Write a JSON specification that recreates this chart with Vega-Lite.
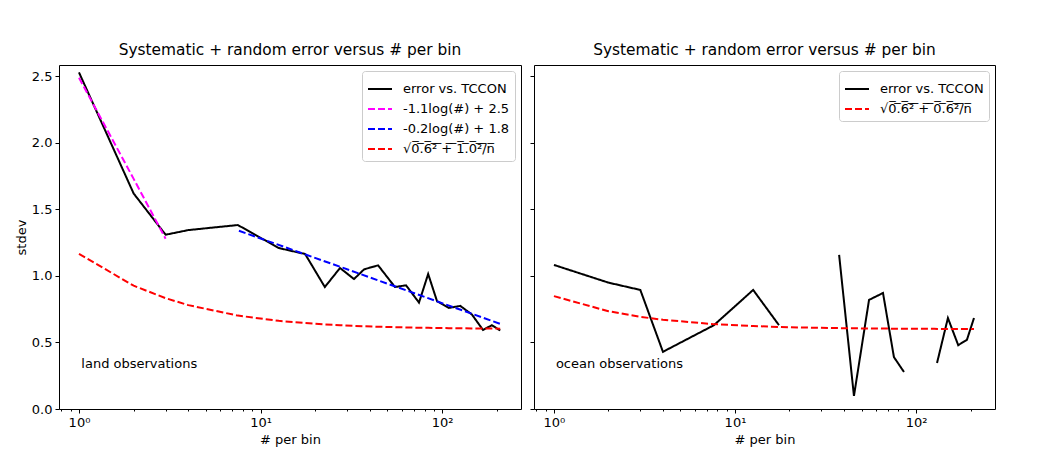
{
  "$schema": "https://vega.github.io/schema/vega-lite/v6.json",
  "background": "white",
  "padding": {"left": 14, "top": 42, "right": 0, "bottom": 0},
  "config": {
    "font": "DejaVu Sans",
    "view": {"stroke": "black", "strokeWidth": 1},
    "axis": {"grid": false, "domain": false, "tickColor": "black", "labelColor": "black", "titleColor": "black", "labelFontSize": 13, "titleFontSize": 13, "titleFontWeight": "normal", "tickSize": 4, "labelPadding": 3},
    "title": {"fontSize": 15.4, "fontWeight": "normal", "color": "black", "offset": 7},
    "legend": {"orient": "top-right", "offset": 6, "strokeColor": "#cccccc", "fillColor": "white", "padding": 5, "cornerRadius": 3, "symbolType": "stroke", "symbolSize": 576, "symbolStrokeWidth": 2, "labelFontSize": 13, "labelColor": "black", "rowPadding": -5, "labelOffset": 10, "labelLimit": 300}
  },
  "spacing": 7,
  "resolve": {"scale": {"color": "independent", "strokeDash": "independent", "x": "independent", "y": "independent"}},
  "hconcat": [
    {
      "width": 462,
      "height": 344,
      "title": "Systematic + random error versus # per bin",
      "data": {"values": [
        {"x": 1, "y": 2.53, "series": "error vs. TCCON", "seg": "a"},
        {"x": 2, "y": 1.62, "series": "error vs. TCCON", "seg": "a"},
        {"x": 3, "y": 1.31, "series": "error vs. TCCON", "seg": "a"},
        {"x": 4, "y": 1.345, "series": "error vs. TCCON", "seg": "a"},
        {"x": 7.5, "y": 1.383, "series": "error vs. TCCON", "seg": "a"},
        {"x": 12.6, "y": 1.21, "series": "error vs. TCCON", "seg": "a"},
        {"x": 17.6, "y": 1.165, "series": "error vs. TCCON", "seg": "a"},
        {"x": 22.6, "y": 0.917, "series": "error vs. TCCON", "seg": "a"},
        {"x": 27.4, "y": 1.06, "series": "error vs. TCCON", "seg": "a"},
        {"x": 32.7, "y": 0.977, "series": "error vs. TCCON", "seg": "a"},
        {"x": 37.2, "y": 1.05, "series": "error vs. TCCON", "seg": "a"},
        {"x": 44.4, "y": 1.08, "series": "error vs. TCCON", "seg": "a"},
        {"x": 55, "y": 0.917, "series": "error vs. TCCON", "seg": "a"},
        {"x": 63.3, "y": 0.93, "series": "error vs. TCCON", "seg": "a"},
        {"x": 74.6, "y": 0.8, "series": "error vs. TCCON", "seg": "a"},
        {"x": 83.8, "y": 1.015, "series": "error vs. TCCON", "seg": "a"},
        {"x": 93.8, "y": 0.81, "series": "error vs. TCCON", "seg": "a"},
        {"x": 109, "y": 0.76, "series": "error vs. TCCON", "seg": "a"},
        {"x": 126, "y": 0.775, "series": "error vs. TCCON", "seg": "a"},
        {"x": 146, "y": 0.71, "series": "error vs. TCCON", "seg": "a"},
        {"x": 168, "y": 0.594, "series": "error vs. TCCON", "seg": "a"},
        {"x": 188, "y": 0.63, "series": "error vs. TCCON", "seg": "a"},
        {"x": 209, "y": 0.59, "series": "error vs. TCCON", "seg": "a"},
        {"x": 1, "y": 2.49, "series": "-1.1log(#) + 2.5", "seg": "m"},
        {"x": 2, "y": 1.73, "series": "-1.1log(#) + 2.5", "seg": "m"},
        {"x": 3, "y": 1.28, "series": "-1.1log(#) + 2.5", "seg": "m"},
        {"x": 7.6, "y": 1.34, "series": "-0.2log(#) + 1.8", "seg": "b"},
        {"x": 209, "y": 0.64, "series": "-0.2log(#) + 1.8", "seg": "b"},
        {"x": 1, "y": 1.166, "series": "√0̅.̅6̅²̅ ̅+̅ ̅1̅.̅0̅²̅/̅n̅", "seg": "r"},
        {"x": 2, "y": 0.927, "series": "√0̅.̅6̅²̅ ̅+̅ ̅1̅.̅0̅²̅/̅n̅", "seg": "r"},
        {"x": 3, "y": 0.833, "series": "√0̅.̅6̅²̅ ̅+̅ ̅1̅.̅0̅²̅/̅n̅", "seg": "r"},
        {"x": 4, "y": 0.781, "series": "√0̅.̅6̅²̅ ̅+̅ ̅1̅.̅0̅²̅/̅n̅", "seg": "r"},
        {"x": 7.5, "y": 0.702, "series": "√0̅.̅6̅²̅ ̅+̅ ̅1̅.̅0̅²̅/̅n̅", "seg": "r"},
        {"x": 12.6, "y": 0.663, "series": "√0̅.̅6̅²̅ ̅+̅ ̅1̅.̅0̅²̅/̅n̅", "seg": "r"},
        {"x": 17.6, "y": 0.646, "series": "√0̅.̅6̅²̅ ̅+̅ ̅1̅.̅0̅²̅/̅n̅", "seg": "r"},
        {"x": 22.6, "y": 0.636, "series": "√0̅.̅6̅²̅ ̅+̅ ̅1̅.̅0̅²̅/̅n̅", "seg": "r"},
        {"x": 27.4, "y": 0.63, "series": "√0̅.̅6̅²̅ ̅+̅ ̅1̅.̅0̅²̅/̅n̅", "seg": "r"},
        {"x": 32.7, "y": 0.625, "series": "√0̅.̅6̅²̅ ̅+̅ ̅1̅.̅0̅²̅/̅n̅", "seg": "r"},
        {"x": 37.2, "y": 0.622, "series": "√0̅.̅6̅²̅ ̅+̅ ̅1̅.̅0̅²̅/̅n̅", "seg": "r"},
        {"x": 44.4, "y": 0.6185, "series": "√0̅.̅6̅²̅ ̅+̅ ̅1̅.̅0̅²̅/̅n̅", "seg": "r"},
        {"x": 55, "y": 0.615, "series": "√0̅.̅6̅²̅ ̅+̅ ̅1̅.̅0̅²̅/̅n̅", "seg": "r"},
        {"x": 63.3, "y": 0.613, "series": "√0̅.̅6̅²̅ ̅+̅ ̅1̅.̅0̅²̅/̅n̅", "seg": "r"},
        {"x": 74.6, "y": 0.611, "series": "√0̅.̅6̅²̅ ̅+̅ ̅1̅.̅0̅²̅/̅n̅", "seg": "r"},
        {"x": 83.8, "y": 0.61, "series": "√0̅.̅6̅²̅ ̅+̅ ̅1̅.̅0̅²̅/̅n̅", "seg": "r"},
        {"x": 93.8, "y": 0.609, "series": "√0̅.̅6̅²̅ ̅+̅ ̅1̅.̅0̅²̅/̅n̅", "seg": "r"},
        {"x": 109, "y": 0.6076, "series": "√0̅.̅6̅²̅ ̅+̅ ̅1̅.̅0̅²̅/̅n̅", "seg": "r"},
        {"x": 126, "y": 0.6066, "series": "√0̅.̅6̅²̅ ̅+̅ ̅1̅.̅0̅²̅/̅n̅", "seg": "r"},
        {"x": 146, "y": 0.6057, "series": "√0̅.̅6̅²̅ ̅+̅ ̅1̅.̅0̅²̅/̅n̅", "seg": "r"},
        {"x": 168, "y": 0.6049, "series": "√0̅.̅6̅²̅ ̅+̅ ̅1̅.̅0̅²̅/̅n̅", "seg": "r"},
        {"x": 188, "y": 0.6044, "series": "√0̅.̅6̅²̅ ̅+̅ ̅1̅.̅0̅²̅/̅n̅", "seg": "r"},
        {"x": 209, "y": 0.604, "series": "√0̅.̅6̅²̅ ̅+̅ ̅1̅.̅0̅²̅/̅n̅", "seg": "r"}
      ]},
      "layer": [
        {
          "mark": {"type": "line", "strokeWidth": 2},
          "encoding": {
            "x": {"field": "x", "type": "quantitative", "scale": {"type": "log", "domain": [0.776, 272], "nice": false},
              "axis": {"title": "# per bin", "values": [0.8, 0.9, 1, 2, 3, 4, 5, 6, 7, 8, 9, 10, 20, 30, 40, 50, 60, 70, 80, 90, 100, 200],
                "labelExpr": "datum.value == 1 ? '10⁰' : datum.value == 10 ? '10¹' : datum.value == 100 ? '10²' : ''",
                "tickSize": {"condition": {"test": "datum.value == 1 || datum.value == 10 || datum.value == 100", "value": 4}, "value": 2},
                "titlePadding": 4}},
            "y": {"field": "y", "type": "quantitative", "scale": {"domain": [0, 2.586], "nice": false},
              "axis": {"title": "stdev", "values": [0, 0.5, 1, 1.5, 2, 2.5], "format": ".1f", "titlePadding": 3}},
            "color": {"field": "series", "type": "nominal",
              "scale": {"domain": ["error vs. TCCON", "-1.1log(#) + 2.5", "-0.2log(#) + 1.8", "√0̅.̅6̅²̅ ̅+̅ ̅1̅.̅0̅²̅/̅n̅"], "range": ["black", "#ff00ff", "#0000ff", "#ff0000"]},
              "legend": {"title": null}},
            "strokeDash": {"field": "series", "type": "nominal",
              "scale": {"domain": ["error vs. TCCON", "-1.1log(#) + 2.5", "-0.2log(#) + 1.8", "√0̅.̅6̅²̅ ̅+̅ ̅1̅.̅0̅²̅/̅n̅"], "range": [[1, 0], [7, 3], [7, 3], [7, 3]]},
              "legend": {"title": null}},
            "detail": {"field": "seg"}
          }
        },
        {
          "data": {"values": [{"x": 1.03, "y": 0.34, "label": "land observations"}]},
          "mark": {"type": "text", "align": "left", "baseline": "middle", "fontSize": 13, "color": "black"},
          "encoding": {
            "x": {"field": "x", "type": "quantitative"},
            "y": {"field": "y", "type": "quantitative"},
            "text": {"field": "label"}
          }
        }
      ]
    },
    {
      "width": 461,
      "height": 344,
      "title": "Systematic + random error versus # per bin",
      "data": {"values": [
        {"x": 1, "y": 1.083, "series": "error vs. TCCON", "seg": "a"},
        {"x": 2, "y": 0.95, "series": "error vs. TCCON", "seg": "a"},
        {"x": 3, "y": 0.895, "series": "error vs. TCCON", "seg": "a"},
        {"x": 4, "y": 0.43, "series": "error vs. TCCON", "seg": "a"},
        {"x": 7.65, "y": 0.63, "series": "error vs. TCCON", "seg": "a"},
        {"x": 12.6, "y": 0.895, "series": "error vs. TCCON", "seg": "a"},
        {"x": 17.5, "y": 0.63, "series": "error vs. TCCON", "seg": "a"},
        {"x": 37.6, "y": 1.158, "series": "error vs. TCCON", "seg": "b"},
        {"x": 45.4, "y": 0.098, "series": "error vs. TCCON", "seg": "b"},
        {"x": 55, "y": 0.82, "series": "error vs. TCCON", "seg": "b"},
        {"x": 65.7, "y": 0.872, "series": "error vs. TCCON", "seg": "b"},
        {"x": 75.5, "y": 0.39, "series": "error vs. TCCON", "seg": "b"},
        {"x": 85.8, "y": 0.278, "series": "error vs. TCCON", "seg": "b"},
        {"x": 130.6, "y": 0.346, "series": "error vs. TCCON", "seg": "c"},
        {"x": 150, "y": 0.684, "series": "error vs. TCCON", "seg": "c"},
        {"x": 171, "y": 0.48, "series": "error vs. TCCON", "seg": "c"},
        {"x": 191, "y": 0.52, "series": "error vs. TCCON", "seg": "c"},
        {"x": 209, "y": 0.684, "series": "error vs. TCCON", "seg": "c"},
        {"x": 1, "y": 0.8485, "series": "√0̅.̅6̅²̅ ̅+̅ ̅0̅.̅6̅²̅/̅n̅", "seg": "r"},
        {"x": 2, "y": 0.7348, "series": "√0̅.̅6̅²̅ ̅+̅ ̅0̅.̅6̅²̅/̅n̅", "seg": "r"},
        {"x": 3, "y": 0.6928, "series": "√0̅.̅6̅²̅ ̅+̅ ̅0̅.̅6̅²̅/̅n̅", "seg": "r"},
        {"x": 4, "y": 0.6708, "series": "√0̅.̅6̅²̅ ̅+̅ ̅0̅.̅6̅²̅/̅n̅", "seg": "r"},
        {"x": 7.5, "y": 0.6387, "series": "√0̅.̅6̅²̅ ̅+̅ ̅0̅.̅6̅²̅/̅n̅", "seg": "r"},
        {"x": 12.6, "y": 0.6234, "series": "√0̅.̅6̅²̅ ̅+̅ ̅0̅.̅6̅²̅/̅n̅", "seg": "r"},
        {"x": 17.6, "y": 0.6168, "series": "√0̅.̅6̅²̅ ̅+̅ ̅0̅.̅6̅²̅/̅n̅", "seg": "r"},
        {"x": 22.6, "y": 0.6131, "series": "√0̅.̅6̅²̅ ̅+̅ ̅0̅.̅6̅²̅/̅n̅", "seg": "r"},
        {"x": 27.4, "y": 0.6109, "series": "√0̅.̅6̅²̅ ̅+̅ ̅0̅.̅6̅²̅/̅n̅", "seg": "r"},
        {"x": 32.7, "y": 0.6091, "series": "√0̅.̅6̅²̅ ̅+̅ ̅0̅.̅6̅²̅/̅n̅", "seg": "r"},
        {"x": 37.2, "y": 0.608, "series": "√0̅.̅6̅²̅ ̅+̅ ̅0̅.̅6̅²̅/̅n̅", "seg": "r"},
        {"x": 44.4, "y": 0.6067, "series": "√0̅.̅6̅²̅ ̅+̅ ̅0̅.̅6̅²̅/̅n̅", "seg": "r"},
        {"x": 55, "y": 0.6054, "series": "√0̅.̅6̅²̅ ̅+̅ ̅0̅.̅6̅²̅/̅n̅", "seg": "r"},
        {"x": 63.3, "y": 0.6047, "series": "√0̅.̅6̅²̅ ̅+̅ ̅0̅.̅6̅²̅/̅n̅", "seg": "r"},
        {"x": 74.6, "y": 0.604, "series": "√0̅.̅6̅²̅ ̅+̅ ̅0̅.̅6̅²̅/̅n̅", "seg": "r"},
        {"x": 83.8, "y": 0.6035, "series": "√0̅.̅6̅²̅ ̅+̅ ̅0̅.̅6̅²̅/̅n̅", "seg": "r"},
        {"x": 93.8, "y": 0.6032, "series": "√0̅.̅6̅²̅ ̅+̅ ̅0̅.̅6̅²̅/̅n̅", "seg": "r"},
        {"x": 109, "y": 0.6027, "series": "√0̅.̅6̅²̅ ̅+̅ ̅0̅.̅6̅²̅/̅n̅", "seg": "r"},
        {"x": 126, "y": 0.6024, "series": "√0̅.̅6̅²̅ ̅+̅ ̅0̅.̅6̅²̅/̅n̅", "seg": "r"},
        {"x": 146, "y": 0.602, "series": "√0̅.̅6̅²̅ ̅+̅ ̅0̅.̅6̅²̅/̅n̅", "seg": "r"},
        {"x": 168, "y": 0.6018, "series": "√0̅.̅6̅²̅ ̅+̅ ̅0̅.̅6̅²̅/̅n̅", "seg": "r"},
        {"x": 188, "y": 0.6016, "series": "√0̅.̅6̅²̅ ̅+̅ ̅0̅.̅6̅²̅/̅n̅", "seg": "r"},
        {"x": 209, "y": 0.6014, "series": "√0̅.̅6̅²̅ ̅+̅ ̅0̅.̅6̅²̅/̅n̅", "seg": "r"}
      ]},
      "layer": [
        {
          "mark": {"type": "line", "strokeWidth": 2},
          "encoding": {
            "x": {"field": "x", "type": "quantitative", "scale": {"type": "log", "domain": [0.776, 273], "nice": false},
              "axis": {"title": "# per bin", "values": [0.8, 0.9, 1, 2, 3, 4, 5, 6, 7, 8, 9, 10, 20, 30, 40, 50, 60, 70, 80, 90, 100, 200],
                "labelExpr": "datum.value == 1 ? '10⁰' : datum.value == 10 ? '10¹' : datum.value == 100 ? '10²' : ''",
                "tickSize": {"condition": {"test": "datum.value == 1 || datum.value == 10 || datum.value == 100", "value": 4}, "value": 2},
                "titlePadding": 4}},
            "y": {"field": "y", "type": "quantitative", "scale": {"domain": [0, 2.586], "nice": false},
              "axis": {"title": null, "values": [0, 0.5, 1, 1.5, 2, 2.5], "labels": false}},
            "color": {"field": "series", "type": "nominal",
              "scale": {"domain": ["error vs. TCCON", "√0̅.̅6̅²̅ ̅+̅ ̅0̅.̅6̅²̅/̅n̅"], "range": ["black", "#ff0000"]},
              "legend": {"title": null}},
            "strokeDash": {"field": "series", "type": "nominal",
              "scale": {"domain": ["error vs. TCCON", "√0̅.̅6̅²̅ ̅+̅ ̅0̅.̅6̅²̅/̅n̅"], "range": [[1, 0], [7, 3]]},
              "legend": {"title": null}},
            "detail": {"field": "seg"}
          }
        },
        {
          "data": {"values": [{"x": 1.025, "y": 0.34, "label": "ocean observations"}]},
          "mark": {"type": "text", "align": "left", "baseline": "middle", "fontSize": 13, "color": "black"},
          "encoding": {
            "x": {"field": "x", "type": "quantitative"},
            "y": {"field": "y", "type": "quantitative"},
            "text": {"field": "label"}
          }
        }
      ]
    }
  ]
}
